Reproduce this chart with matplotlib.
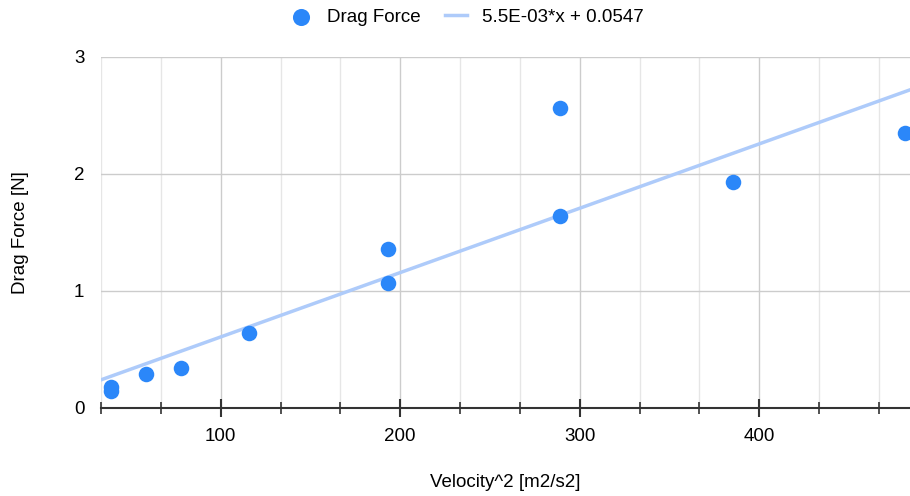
import numpy as np
import matplotlib
matplotlib.use('Agg')
import matplotlib.pyplot as plt
from matplotlib.ticker import MultipleLocator

# data
velocity_sq = [39, 39, 58.6, 77.7, 116, 193, 193, 289, 289, 385.6, 481]
drag_force = [0.177, 0.143, 0.288, 0.342, 0.641, 1.354, 1.068, 2.559, 1.638, 1.927, 2.348]
slope = 5.5e-3
intercept = 0.0547
trend_label = '5.5E-03*x + 0.0547'

xmin, xmax = 100 / 3, 484
ymin, ymax = 0, 3

point_color = '#2b87f9'
trend_color = '#aecbfa'

plt.rcParams['font.family'] = ['Liberation Sans', 'DejaVu Sans']

fig = plt.figure(figsize=(9.1, 4.96), dpi=100)
ax = fig.add_axes([101 / 910, 1 - 407.7 / 496, 1 - 101 / 910, (407.7 - 56.7) / 496])

xs = np.array([xmin, xmax])
ax.plot(xs, slope * xs + intercept, color=trend_color, lw=2.5, label=trend_label, zorder=2)
ax.scatter(velocity_sq, drag_force, s=125, color=point_color, label='Drag Force',
           zorder=3, linewidths=0)

ax.set_xlim(xmin, xmax)
ax.set_ylim(ymin, ymax)
ax.xaxis.set_major_locator(MultipleLocator(100))
ax.xaxis.set_minor_locator(MultipleLocator(100 / 3))
ax.yaxis.set_major_locator(MultipleLocator(1))

ax.grid(True, which='major', color='#cccccc', lw=1)
ax.grid(True, which='minor', axis='x', color='#e6e6e6', lw=1)
ax.set_axisbelow(True)

for s in ['top', 'right', 'left']:
    ax.spines[s].set_visible(False)
ax.spines['bottom'].set_color('#333333')
ax.spines['bottom'].set_linewidth(1.5)
ax.spines['bottom'].set_zorder(4)

ax.tick_params(axis='x', which='major', direction='inout', length=13, width=1.5,
               color='#333333', labelsize=13.5, pad=8)
ax.tick_params(axis='x', which='minor', direction='inout', length=8, width=1.2, color='#333333')
ax.tick_params(axis='y', which='both', length=0, labelsize=13.5, pad=12)

ax.set_xlabel('Velocity^2 [m2/s2]', fontsize=13.5, labelpad=21)
ax.set_ylabel('Drag Force [N]', fontsize=13.5, labelpad=32)

handles, labels = ax.get_legend_handles_labels()
fig.legend(handles[::-1], labels[::-1], loc='center', bbox_to_anchor=(0.513, 1 - 17 / 496),
           ncol=2, frameon=False, fontsize=13.5, handlelength=1.2, columnspacing=1.3,
           markerscale=1.1)

fig.savefig('out.png', dpi=100)
